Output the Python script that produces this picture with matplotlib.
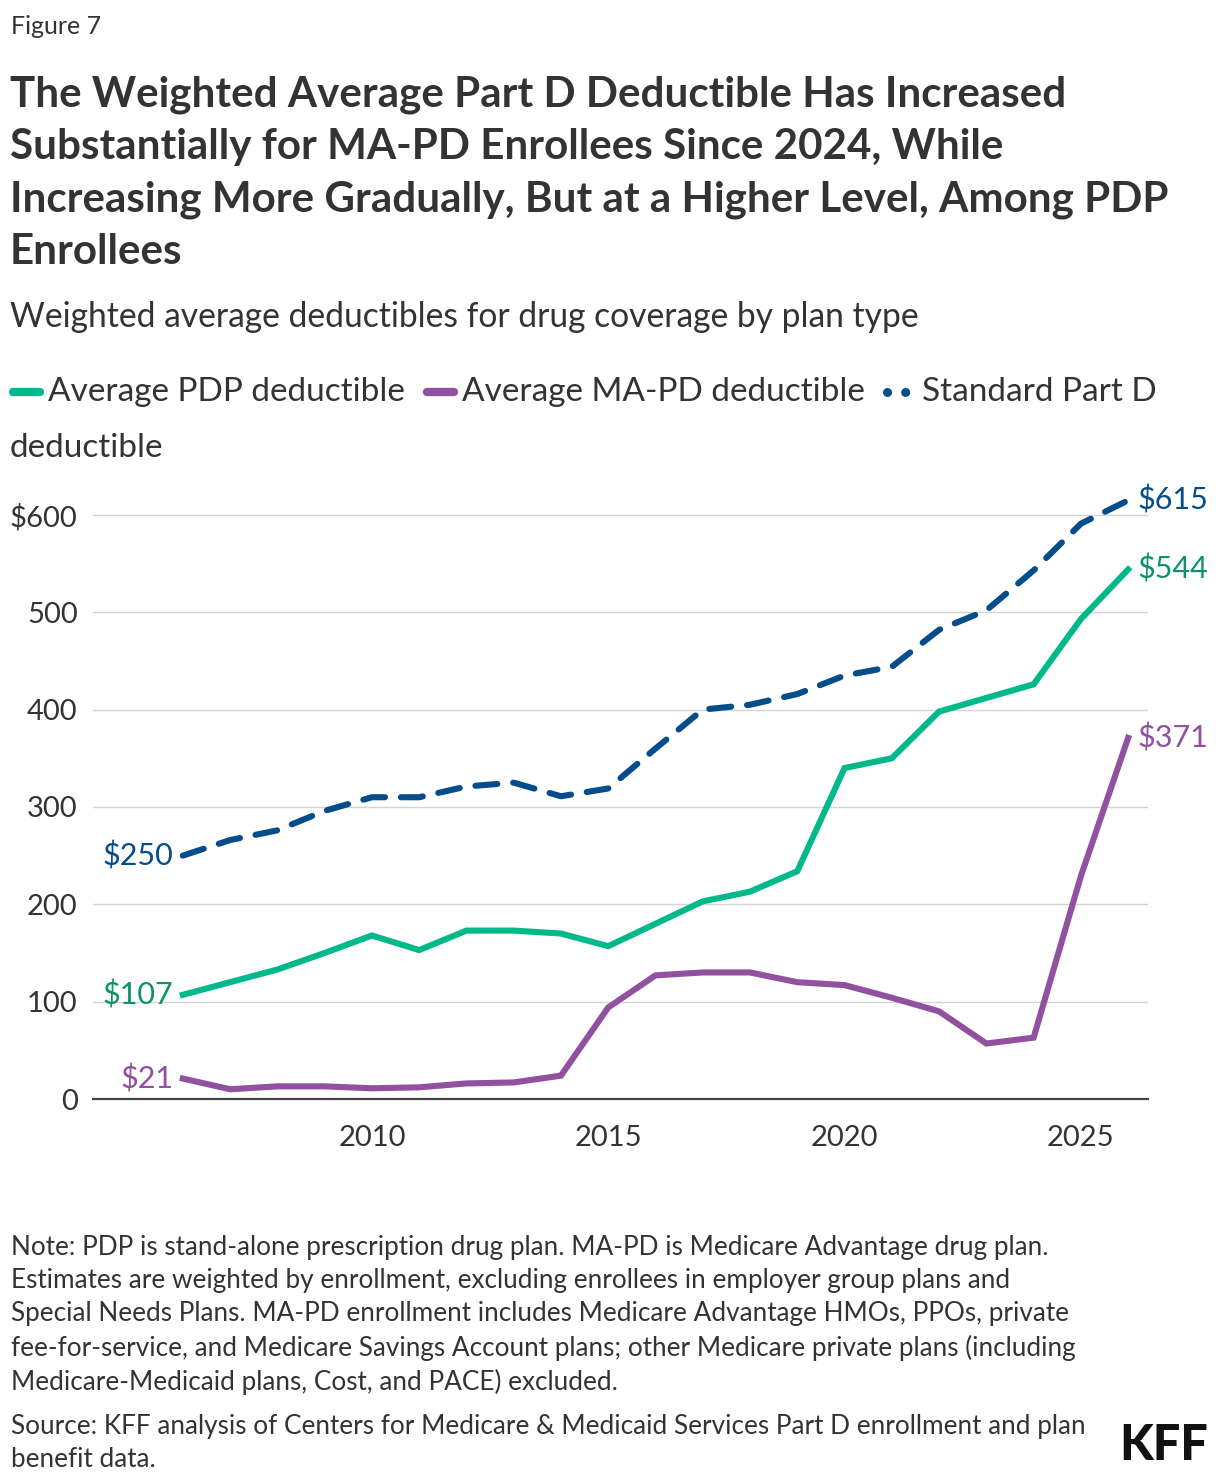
import matplotlib
matplotlib.use("Agg")
import matplotlib.pyplot as plt
from matplotlib.lines import Line2D

plt.rcParams["font.family"] = ["Lato", "DejaVu Sans"]

years = list(range(2006, 2027))
pdp = [107, 120, 133, 150, 168, 153, 173, 173, 170, 157, 180,
       203, 213, 234, 340, 350, 398, 412, 426, 493, 544]
mapd = [21, 10, 13, 13, 11, 12, 16, 17, 24, 94, 127,
        130, 130, 120, 117, 104, 90, 57, 63, 229, 371]
standard = [250, 266, 276, 296, 310, 310, 321, 325, 311, 319, 360,
            400, 405, 416, 435, 444, 482, 502, 543, 591, 615]

series_names = ["Average PDP deductible", "Average MA-PD deductible", "Standard Part D"]
x_ticks = [2010, 2015, 2020, 2025]
y_ticks = [0, 100, 200, 300, 400, 500, 600]
y_tick_labels = ["0", "100", "200", "300", "400", "500", "$600"]

GREEN = "#00b98a"
GREEN_TXT = "#0c936c"
PURPLE = "#9150a0"
BLUE = "#054c8c"
TXT = "#333333"

W, H = 1220, 1484
fig = plt.figure(figsize=(W / 100, H / 100), dpi=100)


def fx(px):
    return px / W


def fy(py):
    return 1 - py / H


# header
fig.text(fx(11), fy(27), "Figure 7", fontsize=18, color=TXT, va="center")
title = ("The Weighted Average Part D Deductible Has Increased\n"
         "Substantially for MA-PD Enrollees Since 2024, While\n"
         "Increasing More Gradually, But at a Higher Level, Among PDP\n"
         "Enrollees")
fig.text(fx(10), fy(75), title, fontsize=30.3, fontweight="bold", color=TXT,
         va="top", linespacing=1.465)
fig.text(fx(10), fy(317), "Weighted average deductibles for drug coverage by plan type",
         fontsize=24.2, color=TXT, va="center")

# legend drawn by hand so the last label can wrap like the original
renderer = fig.canvas.get_renderer()
leg_y = fy(392)
x = 13
styles = [dict(color=GREEN, lw=6, solid_capstyle="round"),
          dict(color=PURPLE, lw=6, solid_capstyle="round"),
          dict(color=BLUE, lw=6.5, linestyle=(0, (0.01, 2.0)), dash_capstyle="round")]
for name, st in zip(series_names, styles):
    fig.add_artist(Line2D([fx(x), fx(x + 27)], [leg_y, leg_y], transform=fig.transFigure, **st))
    t = fig.text(fx(x + 35), leg_y, name, fontsize=24, color=TXT, va="center")
    bb = t.get_window_extent(renderer)
    x = bb.x1 + 22
fig.text(fx(10), fy(448), "deductible", fontsize=24, color=TXT, va="center")

# chart
ax = fig.add_axes([fx(93), fy(1099), fx(1148) - fx(93), fy(476) - fy(1099)])
ax.plot(years, pdp, color=GREEN, lw=4.4, solid_joinstyle="miter", zorder=3)
ax.plot(years, mapd, color=PURPLE, lw=4.4, solid_joinstyle="miter", zorder=3)
ax.plot(years, standard, color=BLUE, lw=4.4, linestyle=(0, (3.6, 2.6)),
        dash_capstyle="round", zorder=3)

ax.set_xlim(2004.1, 2026.42)
ax.set_ylim(0, 640)
ax.set_yticks(y_ticks)
ax.set_yticklabels(y_tick_labels)
ax.set_xticks(x_ticks)
ax.tick_params(axis="both", length=0, labelsize=21, labelcolor=TXT)
ax.tick_params(axis="y", pad=11)
ax.tick_params(axis="x", pad=19)
for v in y_ticks[1:]:
    ax.axhline(v, color="#d4d4d4", lw=1, zorder=1)
for s in ["top", "right", "left"]:
    ax.spines[s].set_visible(False)
ax.spines["bottom"].set_color("#444444")
ax.spines["bottom"].set_linewidth(1.6)

# end labels
for vals, col in [(standard, BLUE), (pdp, GREEN_TXT), (mapd, PURPLE)]:
    ax.annotate(f"${vals[0]}", (years[0], vals[0]), xytext=(-7, 0), textcoords="offset points",
                ha="right", va="center", fontsize=22, color=col, annotation_clip=False)
    ax.annotate(f"${vals[-1]}", (years[-1], vals[-1]), xytext=(7, 0), textcoords="offset points",
                ha="left", va="center", fontsize=22, color=col, annotation_clip=False)

# footer
note = ("Note: PDP is stand-alone prescription drug plan. MA-PD is Medicare Advantage drug plan.\n"
        "Estimates are weighted by enrollment, excluding enrollees in employer group plans and\n"
        "Special Needs Plans. MA-PD enrollment includes Medicare Advantage HMOs, PPOs, private\n"
        "fee-for-service, and Medicare Savings Account plans; other Medicare private plans (including\n"
        "Medicare-Medicaid plans, Cost, and PACE) excluded.")
fig.text(fx(11), fy(1235), note, fontsize=18.8, color=TXT, va="top", linespacing=1.40)
source = ("Source: KFF analysis of Centers for Medicare & Medicaid Services Part D enrollment and plan\n"
          "benefit data.")
fig.text(fx(11), fy(1414), source, fontsize=18.8, color=TXT, va="top", linespacing=1.40)
fig.text(fx(1208), fy(1446), "KFF", fontsize=35, fontweight="black", color="#111111",
         ha="right", va="center")

fig.savefig("out.png", dpi=100, facecolor="white")
